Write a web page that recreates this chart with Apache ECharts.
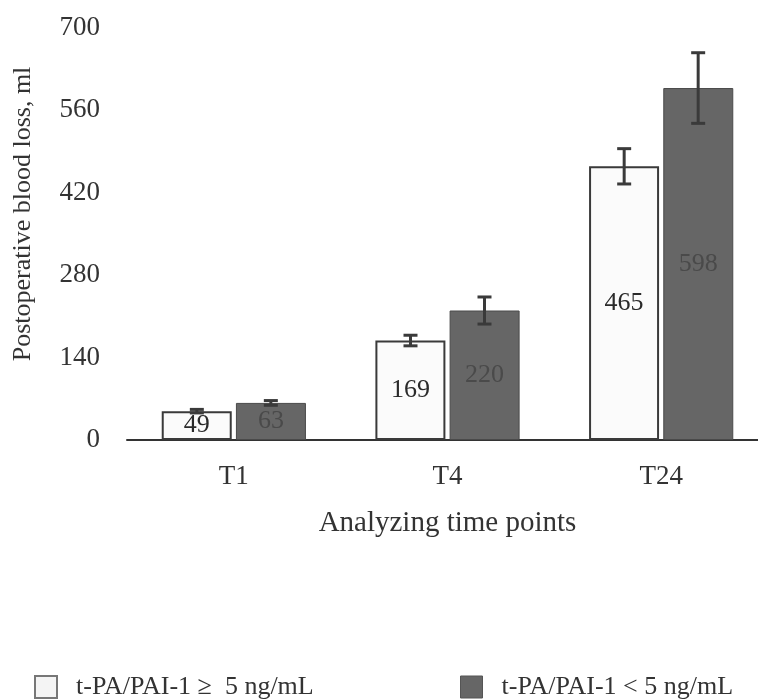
<!DOCTYPE html>
<html>
<head>
<meta charset="utf-8">
<script src="https://cdn.jsdelivr.net/npm/echarts@6/dist/echarts.min.js"></script>
<style>
  html, body { margin: 0; padding: 0; background: #fff; }
  #chart { width: 758px; height: 699px; }
</style>
</head>
<body>
<div id="chart"></div>
<script>
var categories = ['T1', 'T4', 'T24'];
var seriesNames = ['t-PA/PAI-1 \u2265  5 ng/mL', 't-PA/PAI-1 < 5 ng/mL'];
var highValues = [49, 169, 465];
var lowValues = [63, 220, 598];
var highErr = [3, 9, 30];
var lowErr = [4, 23, 60];
var yTicks = [0, 140, 280, 420, 560, 700];

var font = 'Liberation Serif';
var chart = echarts.init(document.getElementById('chart'));

// error bar drawn by custom series, offset = half bar + half gap
function errorSeries(values, errs, offset) {
  return {
    type: 'custom',
    z: 10,
    data: values.map(function (v, i) { return [i, v - errs[i], v + errs[i]]; }),
    renderItem: function (params, api) {
      var lo = api.coord([api.value(0), api.value(1)]);
      var hi = api.coord([api.value(0), api.value(2)]);
      var x = lo[0] + offset;
      var half = 7;
      var st = { stroke: '#3a3a3a', lineWidth: 3 };
      return {
        type: 'group',
        children: [
          { type: 'line', shape: { x1: x, y1: hi[1], x2: x, y2: lo[1] }, style: st },
          { type: 'line', shape: { x1: x - half, y1: hi[1], x2: x + half, y2: hi[1] }, style: st },
          { type: 'line', shape: { x1: x - half, y1: lo[1], x2: x + half, y2: lo[1] }, style: st }
        ]
      };
    }
  };
}

var legendText = { fontFamily: font, fontSize: 26, color: '#333', padding: [0, 0, 0, 14] };

chart.setOption({
  backgroundColor: '#fff',
  textStyle: { fontFamily: font },
  grid: { left: 127, width: 641, top: 28, bottom: 259, outerBoundsMode: 'none' },
  legend: [
    {
      data: [{ name: seriesNames[0], icon: 'rect', itemStyle: { color: '#f4f4f4', borderColor: '#777', borderWidth: 2 } }],
      left: 29, top: 669, itemWidth: 22, itemHeight: 22, textStyle: legendText
    },
    {
      data: [{ name: seriesNames[1], icon: 'rect', itemStyle: { color: '#666666', borderColor: '#555', borderWidth: 1 } }],
      left: 455, top: 669, itemWidth: 22, itemHeight: 22, textStyle: legendText
    }
  ],
  xAxis: {
    type: 'category',
    data: categories,
    name: 'Analyzing time points',
    nameLocation: 'middle',
    nameGap: 69,
    nameTextStyle: { fontFamily: font, fontSize: 29, color: '#333' },
    axisLine: { lineStyle: { color: '#333', width: 2 } },
    axisTick: { show: false },
    axisLabel: { fontFamily: font, fontSize: 27, color: '#333', margin: 23 }
  },
  yAxis: {
    type: 'value',
    min: 0,
    max: yTicks[yTicks.length - 1],
    interval: 140,
    name: 'Postoperative blood loss, ml',
    nameLocation: 'middle',
    nameGap: 91,
    nameTextStyle: { fontFamily: font, fontSize: 26, color: '#333', padding: [0, 0, 0, 40] },
    axisLine: { show: false },
    axisTick: { show: false },
    splitLine: { show: false },
    axisLabel: { fontFamily: font, fontSize: 27, color: '#333', margin: 27 }
  },
  series: [
    {
      name: seriesNames[0],
      type: 'bar',
      data: highValues,
      barWidth: 70,
      barGap: '6%',
      itemStyle: { color: '#fbfbfb', borderColor: '#3a3a3a', borderWidth: 2 },
      label: { show: true, position: 'inside', fontFamily: font, fontSize: 26, color: '#2a2a2a' }
    },
    {
      name: seriesNames[1],
      type: 'bar',
      data: lowValues,
      barWidth: 70,
      itemStyle: { color: '#666666', borderColor: '#4a4a4a', borderWidth: 1 },
      label: { show: true, position: 'inside', fontFamily: font, fontSize: 26, color: '#4a4a4a' }
    },
    errorSeries(highValues, highErr, -37),
    errorSeries(lowValues, lowErr, 37)
  ]
});
</script>
</body>
</html>
